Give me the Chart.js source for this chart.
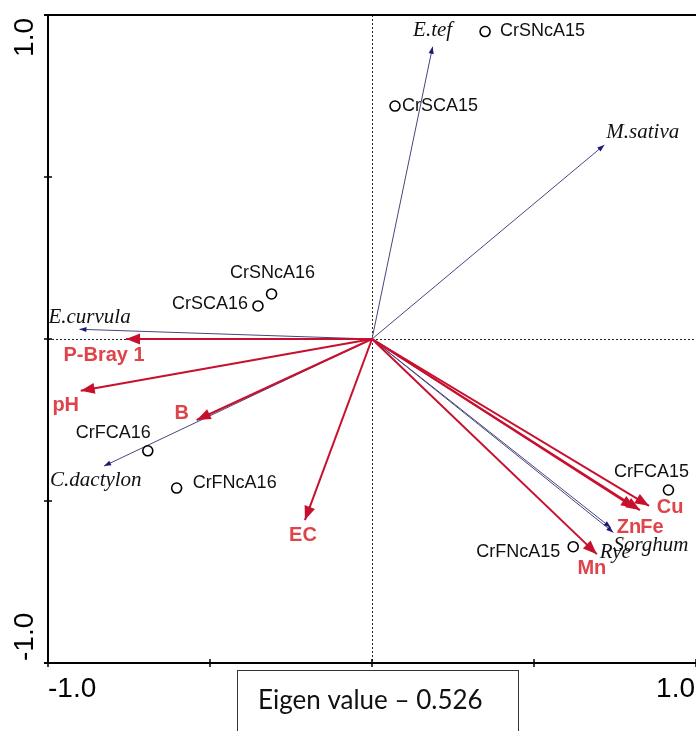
<!DOCTYPE html>
<html>
<head>
<meta charset="utf-8">
<script src="https://cdn.jsdelivr.net/npm/chart.js@4/dist/chart.umd.min.js"></script>
<style>
  html, body { margin: 0; padding: 0; background: #fff; }
  #wrap { position: relative; width: 696px; height: 731px; }
</style>
</head>
<body>
<div id="wrap"><canvas id="c"></canvas></div>
<script>
// Site scores (circles)
const siteNames = ['CrSNcA15', 'CrSCA15', 'CrSNcA16', 'CrSCA16', 'CrFCA16', 'CrFNcA16', 'CrFCA15', 'CrFNcA15'];
const siteX = [0.349, 0.071, -0.310, -0.352, -0.692, -0.603, 0.915, 0.621];
const siteY = [0.949, 0.719, 0.139, 0.102, -0.345, -0.460, -0.466, -0.641];

// Species arrows (thin, navy)
const speciesNames = ['E.tef', 'M.sativa', 'E.curvula', 'C.dactylon', 'Sorghum', 'Rye'];
const speciesX = [0.187, 0.717, -0.903, -0.827, 0.745, 0.737];
const speciesY = [0.902, 0.599, 0.030, -0.392, -0.597, -0.582];

// Soil variable arrows (bold, red)
const envNames = ['P-Bray 1', 'pH', 'B', 'EC', 'Cu', 'Fe', 'Zn', 'Mn'];
const envX = [-0.759, -0.899, -0.541, -0.207, 0.855, 0.827, 0.812, 0.694];
const envY = [0.000, -0.160, -0.250, -0.559, -0.515, -0.528, -0.522, -0.664];

// Axis ticks
const tickValues = [-1, -0.5, 0, 0.5, 1];
const tickLabels = ['-1.0', '', '', '', '1.0'];
const eigenText = 'Eigen value \u2013 0.526';

// Label placement (pixel offsets from each mark, and text alignment)
const siteLabelPos = {
  'CrSNcA15': [15, 0, 'left'], 'CrSCA15': [7, 0, 'left'], 'CrSNcA16': [1, -21, 'center'],
  'CrSCA16': [-10, -2, 'right'], 'CrFCA16': [3, -18, 'right'], 'CrFNcA16': [16, -5, 'left'],
  'CrFCA15': [-17, -18, 'center'], 'CrFNcA15': [-13, 5, 'right']
};
const speciesLabelPos = {
  'E.tef': [0, -16, 'center'], 'M.sativa': [2, -12, 'left'], 'E.curvula': [-31, -12, 'left'],
  'C.dactylon': [-54, 14, 'left'], 'Sorghum': [0, 13, 'left'], 'Rye': [-11, 25, 'left']
};
const envLabelPos = {
  'P-Bray 1': [-22, 16], 'pH': [-15, 15], 'B': [-15, -7], 'EC': [-2, 15],
  'Cu': [21, 2], 'Fe': [12, 17], 'Zn': [-6, 19], 'Mn': [-5, 14]
};

const RED = 'rgb(200,16,46)';
const RED_TEXT = 'rgb(222,68,74)';
const NAVY_LINE = 'rgb(70,70,125)';
const NAVY_HEAD = 'rgb(25,25,120)';

const datasets = [];
datasets.push({
  type: 'scatter', label: 'sites',
  data: siteX.map((x, i) => ({ x, y: siteY[i] })),
  pointStyle: 'circle', pointRadius: 5, pointBorderWidth: 1.6,
  pointBorderColor: '#000', pointBackgroundColor: 'rgba(255,255,255,0)', clip: false
});
envNames.forEach((n, i) => datasets.push({
  type: 'line', label: n, kind: 'env',
  data: [{ x: 0, y: 0 }, { x: envX[i], y: envY[i] }],
  borderColor: RED, borderWidth: 2, pointRadius: 0, fill: false, clip: false
}));
speciesNames.forEach((n, i) => datasets.push({
  type: 'line', label: n, kind: 'species',
  data: [{ x: 0, y: 0 }, { x: speciesX[i], y: speciesY[i] }],
  borderColor: NAVY_LINE, borderWidth: 1, pointRadius: 0, fill: false, clip: false
}));

function arrowHead(ctx, x0, y0, x1, y1, len, half, color) {
  const a = Math.atan2(y1 - y0, x1 - x0);
  ctx.save();
  ctx.fillStyle = color;
  ctx.beginPath();
  ctx.moveTo(x1, y1);
  ctx.lineTo(x1 - len * Math.cos(a) + half * Math.sin(a), y1 - len * Math.sin(a) - half * Math.cos(a));
  ctx.lineTo(x1 - len * Math.cos(a) - half * Math.sin(a), y1 - len * Math.sin(a) + half * Math.cos(a));
  ctx.closePath();
  ctx.fill();
  ctx.restore();
}

const frame = {
  id: 'frame',
  beforeDatasetsDraw(chart) {
    const { ctx, scales: { x, y } } = chart;
    const x0 = x.getPixelForValue(0), y0 = y.getPixelForValue(0);
    const L = x.getPixelForValue(-1), R = x.getPixelForValue(1);
    const T = y.getPixelForValue(1), B = y.getPixelForValue(-1);
    ctx.save();
    ctx.strokeStyle = '#222';
    ctx.lineWidth = 1;
    ctx.setLineDash([2, 2]);
    ctx.beginPath();
    ctx.moveTo(L, y0 + 0.5); ctx.lineTo(R, y0 + 0.5);
    ctx.moveTo(x0 + 0.5, T); ctx.lineTo(x0 + 0.5, B);
    ctx.stroke();
    ctx.restore();
  },
  afterDatasetsDraw(chart) {
    const { ctx, scales: { x, y } } = chart;
    const ox = x.getPixelForValue(0), oy = y.getPixelForValue(0);
    // arrow heads
    chart.data.datasets.forEach((ds) => {
      if (!ds.kind) return;
      const p = ds.data[1];
      const px = x.getPixelForValue(p.x), py = y.getPixelForValue(p.y);
      if (ds.kind === 'env') arrowHead(ctx, ox, oy, px, py, 14, 5.5, RED);
      else arrowHead(ctx, ox, oy, px, py, 7, 2.6, NAVY_HEAD);
    });
    // species labels
    ctx.save();
    ctx.fillStyle = '#111';
    ctx.font = 'italic 21px "Liberation Serif", "Times New Roman", serif';
    ctx.textBaseline = 'middle';
    speciesNames.forEach((n, i) => {
      const [dx, dy, al] = speciesLabelPos[n];
      ctx.textAlign = al;
      ctx.fillText(n, x.getPixelForValue(speciesX[i]) + dx, y.getPixelForValue(speciesY[i]) + dy);
    });
    // site labels
    ctx.font = '18px "Liberation Sans", Arial, sans-serif';
    siteNames.forEach((n, i) => {
      const [dx, dy, al] = siteLabelPos[n];
      ctx.textAlign = al;
      ctx.fillText(n, x.getPixelForValue(siteX[i]) + dx, y.getPixelForValue(siteY[i]) + dy);
    });
    // soil variable labels
    ctx.fillStyle = RED_TEXT;
    ctx.font = 'bold 20px "Liberation Sans", Arial, sans-serif';
    ctx.textAlign = 'center';
    envNames.forEach((n, i) => {
      const [dx, dy] = envLabelPos[n];
      ctx.fillText(n, x.getPixelForValue(envX[i]) + dx, y.getPixelForValue(envY[i]) + dy);
    });
    ctx.restore();
  },
  afterDraw(chart) {
    const { ctx, scales: { x, y } } = chart;
    const L = x.getPixelForValue(-1), R = x.getPixelForValue(1);
    const T = y.getPixelForValue(1), B = y.getPixelForValue(-1);
    ctx.save();
    ctx.strokeStyle = '#000';
    ctx.lineWidth = 2;
    ctx.beginPath();
    ctx.moveTo(L, T - 1); ctx.lineTo(L, B + 1);
    ctx.moveTo(L - 4, B); ctx.lineTo(R, B);
    ctx.moveTo(L - 4, T); ctx.lineTo(R, T);
    ctx.stroke();
    ctx.lineWidth = 1.5;
    ctx.beginPath();
    tickValues.forEach((v) => {
      const py = y.getPixelForValue(v);
      ctx.moveTo(L - 4, py); ctx.lineTo(L + 4, py);
      const px = x.getPixelForValue(v);
      ctx.moveTo(px, B - 4); ctx.lineTo(px, B + 4);
    });
    ctx.stroke();
    // tick labels
    ctx.fillStyle = '#000';
    ctx.font = '28px "Liberation Sans", Arial, sans-serif';
    ctx.textBaseline = 'alphabetic';
    tickValues.forEach((v, i) => {
      const t = tickLabels[i];
      if (!t) return;
      const px = x.getPixelForValue(v);
      ctx.textAlign = i === 0 ? 'left' : 'right';
      ctx.fillText(t, i === 0 ? px : px - 1, B + 34);
      const py = y.getPixelForValue(v);
      ctx.save();
      ctx.translate(33, py);
      ctx.rotate(-Math.PI / 2);
      ctx.textAlign = i === 0 ? 'left' : 'right';
      ctx.fillText(t, i === 0 ? 2 : -3, 0);
      ctx.restore();
    });
    // eigenvalue box
    ctx.strokeStyle = '#333';
    ctx.lineWidth = 1;
    ctx.strokeRect(237.5, 670.5, 281, 80);
    ctx.font = '26px Lato, "Open Sans", sans-serif';
    ctx.textAlign = 'left';
    ctx.fillStyle = '#111';
    ctx.fillText(eigenText, 258, 709);
    ctx.restore();
  }
};

new Chart(document.getElementById('c'), {
  data: { datasets },
  options: {
    responsive: true,
    maintainAspectRatio: false,
    animation: false,
    layout: { autoPadding: false, padding: { left: 48, top: 15, right: 0, bottom: 68 } },
    plugins: { legend: { display: false }, tooltip: { enabled: false } },
    scales: {
      x: { type: 'linear', min: -1, max: 1, display: false },
      y: { type: 'linear', min: -1, max: 1, display: false }
    }
  },
  plugins: [frame]
});
</script>
</body>
</html>
